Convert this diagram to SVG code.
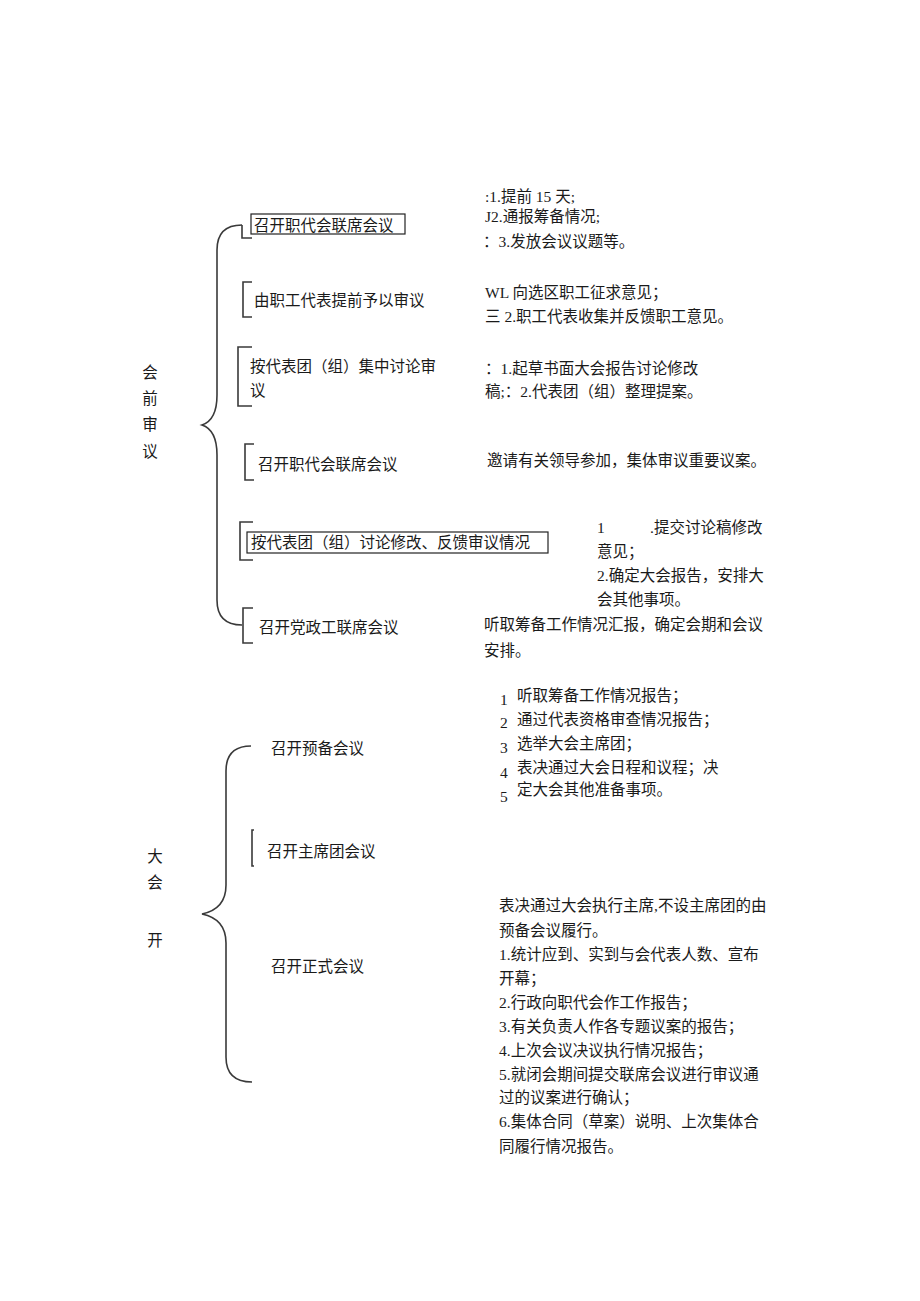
<svg xmlns="http://www.w3.org/2000/svg" width="920" height="1301" viewBox="0 0 920 1301">
<style>
text{font-family:"Liberation Serif","Noto Sans CJK SC",serif;font-size:15.5px;fill:#1a1a1a}
.side{text-anchor:middle}
.br{fill:none;stroke:#3a3a3a;stroke-width:1.6}
.bx{fill:none;stroke:#222;stroke-width:1.2}
</style>
<rect width="920" height="1301" fill="#fff"/>
<g id="connectors">
<path class="br" d="M242,225 Q217,225 217,250 L217,395 Q217,420 202,425 Q217,430 217,455 L217,600 Q217,625 242,625"/>
<path class="br" d="M242,225 L242,238 L252,238"/>
<path class="br" d="M252,282 L243,282 L243,317 L252,317"/>
<path class="br" d="M252,347 L238,347 L238,406 L252,406"/>
<path class="br" d="M254,444 L245,444 L245,480 L254,480"/>
<path class="br" d="M253,522 L240,522 L240,560 L253,560"/>
<path class="br" d="M253,608 L243,608 L243,643 L253,643"/>
<path class="br" d="M251,746 Q226,746 226,771 L226,885 Q226,909 202,914 Q226,919 226,943 L226,1057 Q226,1082 252,1082"/>
<path class="br" d="M254,830 L252,830 L252,866 L254,866"/>
</g>
<g id="side1">
<text class="side" x="150" y="377.5">会</text>
<text class="side" x="150" y="403.5">前</text>
<text class="side" x="150" y="429.5">审</text>
<text class="side" x="150" y="456.5">议</text>
</g>
<g id="side2">
<text class="side" x="155" y="861.5">大</text>
<text class="side" x="155" y="887.5">会</text>
<text class="side" x="155" y="945.5">开</text>
</g>
<g id="n1">
<rect class="bx" x="251" y="214" width="154" height="20"/>
<text x="254" y="230.5">召开职代会联席会议</text>
</g>
<g id="n2"><text x="254" y="305.5">由职工代表提前予以审议</text></g>
<g id="n3"><text x="250" y="371.5">按代表团（组）集中讨论审</text><text x="250" y="395.5">议</text></g>
<g id="n4"><text x="258" y="469.5">召开职代会联席会议</text></g>
<g id="n5">
<rect class="bx" x="247" y="532" width="301" height="21"/>
<text x="251" y="547.5">按代表团（组）讨论修改、反馈审议情况</text>
</g>
<g id="n6"><text x="259" y="632.5">召开党政工联席会议</text></g>
<g id="d1">
<text x="485" y="201.5">:1.提前 15 天;</text>
<text x="485" y="221.5">J2.通报筹备情况;</text>
<text x="483" y="246.5">：3.发放会议议题等。</text>
</g>
<g id="d2">
<text x="485" y="297.5">WL 向选区职工征求意见；</text>
<text x="485" y="321.5">三 2.职工代表收集并反馈职工意见。</text>
</g>
<g id="d3">
<text x="485" y="373.5">：1.起草书面大会报告讨论修改</text>
<text x="485" y="396.5">稿;：2.代表团（组）整理提案。</text>
</g>
<g id="d4"><text x="487" y="465.5">邀请有关领导参加，集体审议重要议案。</text></g>
<g id="d5">
<text x="597" y="532.5">1</text><text x="650" y="532.5">.提交讨论稿修改</text>
<text x="597" y="556.5">意见；</text>
<text x="597" y="580.5">2.确定大会报告，安排大</text>
<text x="597" y="604.5">会其他事项。</text>
</g>
<g id="d6">
<text x="484" y="629.5">听取筹备工作情况汇报，确定会期和会议</text>
<text x="484" y="655.5">安排。</text>
</g>
<g id="m1"><text x="271" y="753.5">召开预备会议</text></g>
<g id="m2"><text x="267" y="856.5">召开主席团会议</text></g>
<g id="m3"><text x="271" y="971.5">召开正式会议</text></g>
<g id="e1">
<text x="500" y="705">1</text>
<text x="500" y="728">2</text>
<text x="500" y="753">3</text>
<text x="500" y="778">4</text>
<text x="500" y="802">5</text>
<text x="517" y="700.5">听取筹备工作情况报告；</text>
<text x="517" y="724.5">通过代表资格审查情况报告；</text>
<text x="517" y="748.5">选举大会主席团；</text>
<text x="517" y="772.5">表决通过大会日程和议程；决</text>
<text x="517" y="794.5">定大会其他准备事项。</text>
</g>
<g id="e3">
<text x="499" y="910.5">表决通过大会执行主席,不设主席团的由</text>
<text x="499" y="935.5">预备会议履行。</text>
<text x="499" y="959.5">1.统计应到、实到与会代表人数、宣布</text>
<text x="499" y="983.5">开幕；</text>
<text x="499" y="1007.5">2.行政向职代会作工作报告；</text>
<text x="499" y="1031.5">3.有关负责人作各专题议案的报告；</text>
<text x="499" y="1055.5">4.上次会议决议执行情况报告；</text>
<text x="499" y="1079.5">5.就闭会期间提交联席会议进行审议通</text>
<text x="499" y="1102.5">过的议案进行确认；</text>
<text x="499" y="1126.5">6.集体合同（草案）说明、上次集体合</text>
<text x="499" y="1151.5">同履行情况报告。</text>
</g>
</svg>
